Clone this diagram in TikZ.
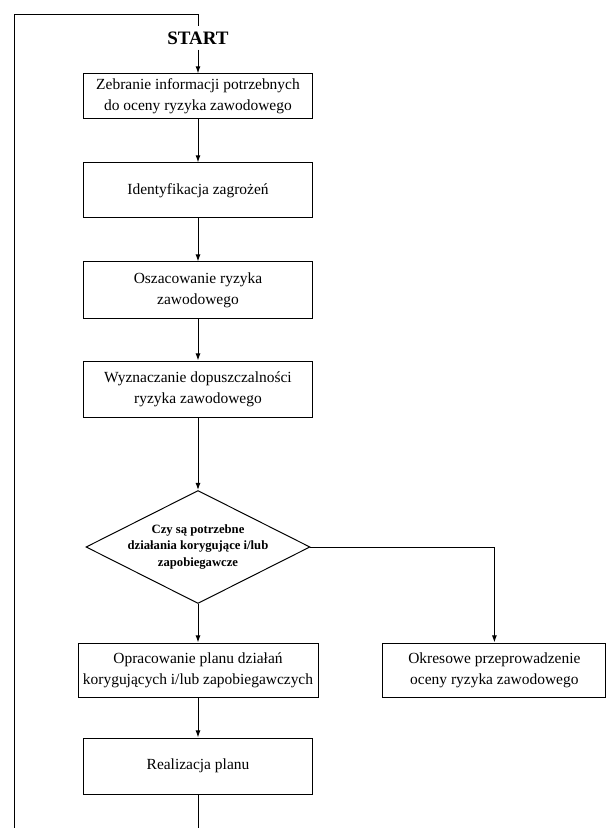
\documentclass[tikz,border=0pt]{standalone}
\usepackage{fontspec}
\setmainfont{Liberation Serif}
\usetikzlibrary{shapes.geometric,arrows.meta}

\begin{document}
\begin{tikzpicture}[
  line width=0.7pt,
  box/.style={draw, rectangle, align=center, font=\fontsize{11}{15}\selectfont,
    minimum width=5.72cm, minimum height=1.4cm},
  decision/.style={draw, diamond, align=center, font=\fontsize{9}{11.5}\selectfont\bfseries,
    inner xsep=-4pt, inner ysep=0pt, shape aspect=2, minimum width=5.6cm, minimum height=2.825cm},
  flow/.style={-{Latex[length=5pt,width=3.5pt]}}
]
  \useasboundingbox (0,0) rectangle (15.2,20.7);

  % Start
  \node[font=\fontsize{13.5}{15}\selectfont\bfseries] (start) at (4.95,19.75) {START};

  % Main column
  \node[box, minimum height=1.125cm] (zebranie) at (4.95,18.29)
    {Zebranie informacji potrzebnych\\do oceny ryzyka zawodowego};
  \node[box, minimum height=1.375cm] (ident) at (4.95,15.94) {Identyfikacja zagrożeń};
  \node[box] (oszac) at (4.95,13.45) {Oszacowanie ryzyka\\zawodowego};
  \node[box] (wyzn) at (4.95,10.975) {Wyznaczanie dopuszczalności\\ryzyka zawodowego};

  % Decision
  \node[decision] (pytanie) at (4.95,7.025)
    {Czy są potrzebne\\działania korygujące i/lub\\zapobiegawcze};

  % Branches
  \node[box, minimum width=6cm, minimum height=1.35cm] (plan) at (4.95,3.95)
    {Opracowanie planu działań\\korygujących i/lub zapobiegawczych};
  \node[box, minimum width=5.575cm, minimum height=1.35cm] (okres) at (12.36,3.95)
    {Okresowe przeprowadzenie\\oceny ryzyka zawodowego};
  \node[box] (realiz) at (4.95,1.55) {Realizacja planu};

  % Loop back to the start
  \coordinate (petlaDol) at (0.35,0);
  \coordinate (petlaGora) at (4.95,20.325);
  \coordinate (wyjscie) at (4.95,0);
  \draw (petlaDol) |- (petlaGora) -- (start.north);
  \draw (realiz.south) -- (wyjscie);

  % Connectors
  \draw[flow] (start) -- (zebranie);
  \draw[flow] (zebranie) -- (ident);
  \draw[flow] (ident) -- (oszac);
  \draw[flow] (oszac) -- (wyzn);
  \draw[flow] (wyzn) -- (pytanie);
  \draw[flow] (pytanie) -- (plan);
  \draw[flow] (pytanie.east) -| (okres.north);
  \draw[flow] (plan) -- (realiz);
\end{tikzpicture}
\end{document}
